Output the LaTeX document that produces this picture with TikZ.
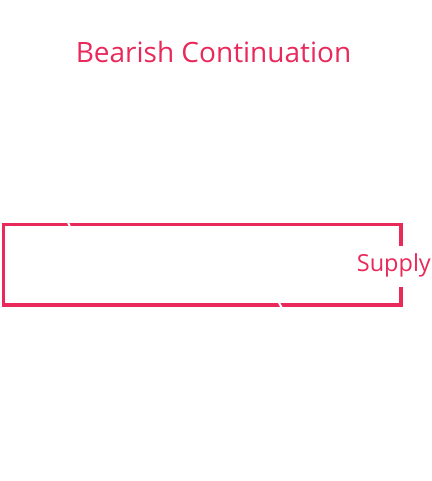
\documentclass[tikz,border=0pt]{standalone}
\usepackage{fontspec}
\setmainfont{Open Sans}
\definecolor{supplyred}{HTML}{E8295A}
\tikzset{zonetext/.style={text=supplyred, inner sep=0pt}}
\begin{document}
\begin{tikzpicture}[x=1pt, y=-1pt, line join=miter, line cap=butt]
\useasboundingbox (0,0) rectangle (431,481);
\path
(3.3,224.5) coordinate (A)
(401,224.5) coordinate (B)
(401,304.7) coordinate (C)
(3.3,304.7) coordinate (D)
(401,246) coordinate (E)
(401,286.7) coordinate (F);
\path (66,218) coordinate (P1) (71,229) coordinate (P2);
\path (277.5,300) coordinate (Q1) (284,312) coordinate (Q2);
\draw[supplyred, line width=3.6pt] (E)--(B)--(A)--(D)--(C)--(F);
\draw[white, line width=2pt] (P1)--(P2) (Q1)--(Q2);
\node[zonetext, font=\fontsize{28}{33}\selectfont, anchor=base] (title) at (213.5,63) {Bearish Continuation};
\node[zonetext, font=\fontsize{23.5}{28}\selectfont, anchor=base west] (supply) at (356.7,271) {Supply};
\end{tikzpicture}
\end{document}
